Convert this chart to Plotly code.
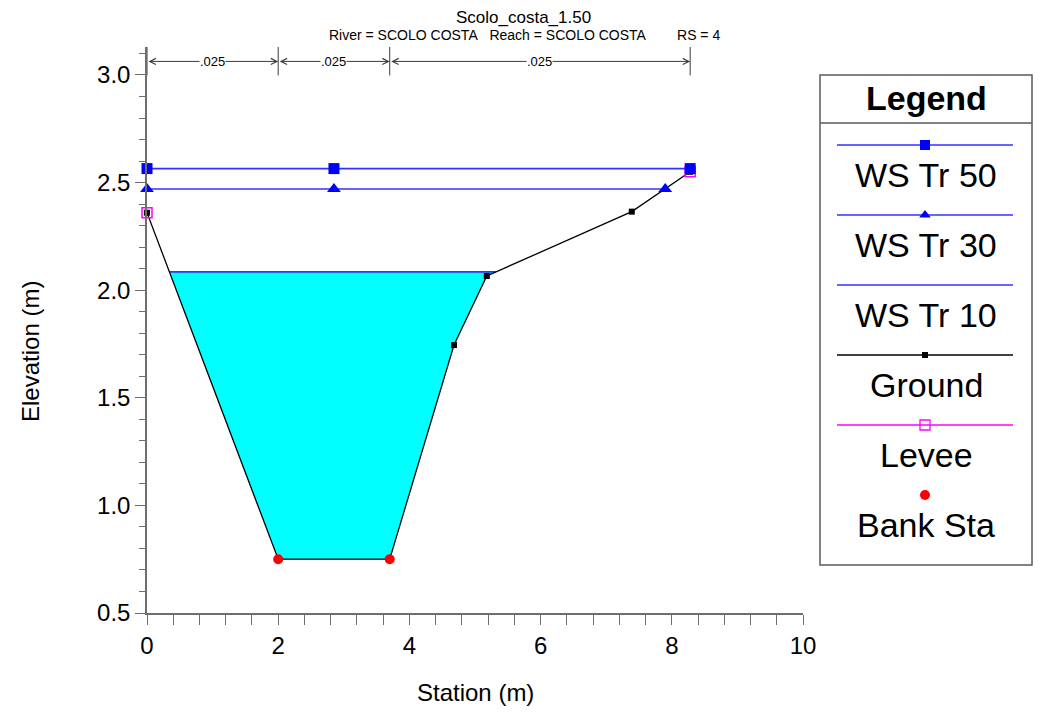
import plotly.graph_objects as go
import numpy as np

# ---------------- data ----------------
ground_x = [0.0, 2.0, 3.7, 4.68, 5.18, 7.39, 8.28]
ground_y = [2.36, 0.75, 0.75, 1.745, 2.066, 2.365, 2.55]

ws50_x = [0.0, 2.85, 8.28]
ws50_y = [2.565, 2.565, 2.565]

ws30_x = [0.0, 2.85, 7.90]
ws30_y = [2.47, 2.47, 2.47]

ws10_x = [0.34, 5.32]
ws10_y = [2.085, 2.085]

levee_x = [0.0, 8.28]
levee_y = [2.36, 2.55]

bank_x = [2.0, 3.7]
bank_y = [0.75, 0.75]

n_stations = [0.0, 2.0, 3.7, 8.28]
n_values = [".025", ".025", ".025"]

legend_names = ["WS Tr 50", "WS Tr 30", "WS Tr 10", "Ground", "Levee", "Bank Sta"]

NB = "\u00a0"
title_text = "Scolo_costa_1.50"
subtitle_text = ("River = SCOLO COSTA" + NB * 3 + "Reach = SCOLO COSTA" + NB * 8 + "RS = 4")

# ---------------- helpers ----------------
W, H = 1044, 715
OFF = 8  # page body margin of the rendered html
FONT = "Liberation Sans, Arial, sans-serif"


def fx(px):
    return (px - OFF) / W


def fy(py):
    return 1 - (py - OFF) / H


def water_polygon(gx, gy, level):
    """Clip ground profile below the water level -> polygon (x, y)."""
    xs, ys = [], []
    for i in range(len(gx) - 1):
        x0, y0, x1, y1 = gx[i], gy[i], gx[i + 1], gy[i + 1]
        if y0 <= level:
            xs.append(x0)
            ys.append(y0)
        if (y0 - level) * (y1 - level) < 0:
            t = (level - y0) / (y1 - y0)
            xs.append(x0 + t * (x1 - x0))
            ys.append(level)
    if gy[-1] <= level:
        xs.append(gx[-1])
        ys.append(gy[-1])
    xs.append(xs[0])
    ys.append(ys[0])
    return xs, ys


BLUE = "rgb(50,50,255)"
MARKER_BLUE = "rgb(0,0,255)"
AXIS_COLOR = "rgb(110,110,110)"

fig = go.Figure()

# water fill for WS Tr 10
px_, py_ = water_polygon(ground_x, ground_y, ws10_y[0])
fig.add_trace(go.Scatter(x=px_, y=py_, mode="lines", fill="toself",
                         fillcolor="rgb(0,255,255)", line=dict(width=0),
                         hoverinfo="skip", showlegend=False))

fig.add_trace(go.Scatter(x=ws10_x, y=ws10_y, mode="lines", name="WS Tr 10",
                         line=dict(color=BLUE, width=1.6), showlegend=False,
                         cliponaxis=False))
fig.add_trace(go.Scatter(x=ground_x, y=ground_y, mode="lines+markers", name="Ground",
                         line=dict(color="black", width=1.3),
                         marker=dict(symbol="square", size=6, color="black"),
                         showlegend=False, cliponaxis=False))
fig.add_trace(go.Scatter(x=ws30_x, y=ws30_y, mode="lines+markers", name="WS Tr 30",
                         line=dict(color=BLUE, width=1.6),
                         marker=dict(symbol="triangle-up", size=12, color=MARKER_BLUE),
                         showlegend=False, cliponaxis=False))
fig.add_trace(go.Scatter(x=levee_x, y=levee_y, mode="markers", name="Levee",
                         marker=dict(symbol="square-open", size=10, color="rgb(255,0,255)",
                                     line=dict(width=1.5)),
                         showlegend=False, cliponaxis=False))
fig.add_trace(go.Scatter(x=ws50_x, y=ws50_y, mode="lines+markers", name="WS Tr 50",
                         line=dict(color=BLUE, width=1.6),
                         marker=dict(symbol="square", size=11, color=MARKER_BLUE),
                         showlegend=False, cliponaxis=False))
fig.add_trace(go.Scatter(x=bank_x, y=bank_y, mode="markers", name="Bank Sta",
                         marker=dict(symbol="circle", size=10, color="red"),
                         showlegend=False, cliponaxis=False))

# ---------------- Manning's n dimension lines ----------------
N_TOP = 3.13
N_BOT = 2.998
N_ARROW = 3.063
shapes = []
for s in n_stations:
    shapes.append(dict(type="line", xref="x", yref="y", x0=s, x1=s, y0=N_BOT, y1=N_TOP,
                       line=dict(color="rgb(60,60,60)", width=1)))

annotations = []
for i, val in enumerate(n_values):
    a, b = n_stations[i], n_stations[i + 1]
    annotations.append(dict(x=b, y=N_ARROW, ax=a, ay=N_ARROW, xref="x", yref="y",
                            axref="x", ayref="y", text="", showarrow=True,
                            arrowside="end+start", arrowhead=5, startarrowhead=5,
                            arrowsize=1.2, startarrowsize=1.2,
                            arrowwidth=1, arrowcolor="rgb(60,60,60)",
                            standoff=0, startstandoff=0))
    annotations.append(dict(x=(a + b) / 2, y=N_ARROW, xref="x", yref="y", text=val,
                            showarrow=False, bgcolor="white", borderpad=0,
                            xanchor="center", yanchor="middle",
                            font=dict(size=13, color="black", family=FONT)))


def label(px, py, text, size, angle=0):
    annotations.append(dict(x=fx(px), y=fy(py), xref="paper", yref="paper", text=text,
                            showarrow=False, xanchor="center", yanchor="middle",
                            textangle=angle,
                            font=dict(size=size, family=FONT, color="black")))


# titles
label(523, 18, title_text, 17)
label(524, 35, subtitle_text, 14)
label(475, 692, "Station (m)", 24)
label(30, 352, "Elevation (m)", 24, angle=-90)

# ---------------- custom legend ----------------
LX0, LX1, LY0, LY1 = 820, 1032, 75, 565
shapes.append(dict(type="rect", xref="paper", yref="paper", x0=fx(LX0), x1=fx(LX1),
                   y0=fy(LY1), y1=fy(LY0), line=dict(color="rgb(90,90,90)", width=1.5),
                   fillcolor="rgba(0,0,0,0)"))
shapes.append(dict(type="line", xref="paper", yref="paper", x0=fx(LX0), x1=fx(LX1),
                   y0=fy(123), y1=fy(123), line=dict(color="rgb(90,90,90)", width=1.5)))
label(926, 98, "<b>Legend</b>", 34)

line_y = [145, 215, 285, 355, 425, 495]
text_y = [175, 245, 315, 385, 455, 525]
for name, ty in zip(legend_names, text_y):
    label(926, ty, name, 34)

LS0, LS1, LC = 837, 1013, 925
legend_styles = [
    dict(line=dict(color=BLUE, width=1.6), marker=dict(symbol="square", size=10, color=MARKER_BLUE)),
    dict(line=dict(color=BLUE, width=1.6), marker=dict(symbol="triangle-up", size=10, color=MARKER_BLUE)),
    dict(line=dict(color=BLUE, width=1.6), marker=None),
    dict(line=dict(color="black", width=1.3), marker=dict(symbol="square", size=6, color="black")),
    dict(line=dict(color="rgb(255,0,255)", width=1.6),
         marker=dict(symbol="square-open", size=10, color="rgb(255,0,255)", line=dict(width=1.3))),
    dict(line=None, marker=dict(symbol="circle", size=10, color="red")),
]
for st, ly in zip(legend_styles, line_y):
    if st["line"] is not None:
        fig.add_trace(go.Scatter(x=[LS0, LS1], y=[ly, ly], mode="lines", line=st["line"],
                                 xaxis="x2", yaxis="y2", showlegend=False, hoverinfo="skip"))
    if st["marker"] is not None:
        fig.add_trace(go.Scatter(x=[LC], y=[ly], mode="markers", marker=st["marker"],
                                 xaxis="x2", yaxis="y2", showlegend=False, hoverinfo="skip"))

fig.update_layout(
    width=W, height=H,
    margin=dict(l=0, r=0, t=0, b=0),
    paper_bgcolor="white", plot_bgcolor="white",
    font=dict(family=FONT, color="black"),
    showlegend=False,
    xaxis=dict(domain=[fx(147), fx(803)], range=[0, 10], dtick=2, tick0=0,
               showgrid=False, zeroline=False, showline=True, linecolor=AXIS_COLOR, linewidth=1.5,
               ticks="outside", ticklen=10, tickcolor=AXIS_COLOR, tickwidth=1.2,
               minor=dict(dtick=0.4, tick0=0, ticks="outside", ticklen=10,
                          tickcolor=AXIS_COLOR, tickwidth=1.2),
               tickfont=dict(size=24, family=FONT, color="black"),
               anchor="y", automargin=False),
    yaxis=dict(domain=[fy(613), fy(47)], range=[0.5, 3.13], dtick=0.5, tick0=0.5,
               tickformat=".1f",
               showgrid=False, zeroline=False, showline=True, linecolor=AXIS_COLOR, linewidth=1.5,
               ticks="outside", ticklen=10, tickcolor=AXIS_COLOR, tickwidth=1.2,
               minor=dict(dtick=0.1, tick0=0.5, ticks="outside", ticklen=6,
                          tickcolor=AXIS_COLOR, tickwidth=1.2),
               tickfont=dict(size=24, family=FONT, color="black"),
               anchor="x", automargin=False),
    xaxis2=dict(domain=[fx(LX0), fx(LX1)], range=[LX0, LX1], visible=False, anchor="y2",
                fixedrange=True),
    yaxis2=dict(domain=[fy(LY1), fy(LY0)], range=[LY1, LY0], visible=False, anchor="x2",
                fixedrange=True),
    shapes=shapes,
    annotations=annotations,
)

fig.write_html("out.html")
